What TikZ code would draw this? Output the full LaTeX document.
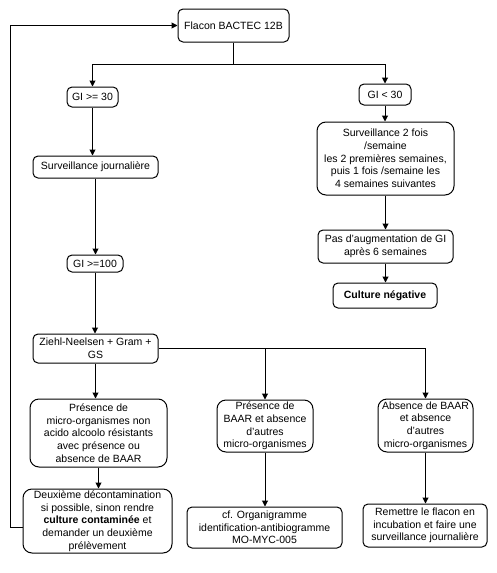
\documentclass[tikz,border=0pt]{standalone}
\usepackage{fontspec}
\setmainfont{Liberation Sans}
\usetikzlibrary{arrows.meta}
\tikzset{
  box/.style={draw, rounded corners=5pt, align=center, inner sep=0pt,
    font=\fontsize{10.5}{12.7}\selectfont, line width=1pt},
  bigbox/.style={box, rounded corners=9pt},
  conn/.style={line width=1pt},
  arr/.style={conn, -{Triangle[length=6pt,width=6pt]}}
}
\begin{document}
\begin{tikzpicture}[x=1pt,y=-1pt]
\useasboundingbox (0,0) rectangle (496,573);
% nodes
\node[box, minimum width=111pt, minimum height=33pt] (flacon) at (233.5,25.5) {Flacon BACTEC 12B};
\node[box, minimum width=51pt, minimum height=20pt] (gi30) at (92.5,97) {GI >= 30};
\node[box, minimum width=52pt, minimum height=21pt] (gilt) at (385,94.5) {GI < 30};
\node[bigbox, minimum width=137pt, minimum height=73pt] (surv2) at (385.5,158.5)
  {Surveillance 2 fois\\ /semaine\\ les 2 premières semaines,\\ puis 1 fois /semaine les\\ 4 semaines suivantes};
\node[box, minimum width=135pt, minimum height=33pt] (pas) at (385.5,246.5)
  {Pas d'augmentation de GI\\ après 6 semaines};
\node[box, minimum width=104pt, minimum height=25pt] (culture) at (385,295.5) {\textbf{Culture négative}};
\node[box, minimum width=125pt, minimum height=22pt] (survj) at (95.5,167) {Surveillance journalière};
\node[box, minimum width=56pt, minimum height=17pt] (gi100) at (95,263.5) {GI >=100};
\node[box, minimum width=125pt, minimum height=29pt] (ziehl) at (95.5,348.5) {Ziehl-Neelsen + Gram +\\ GS};
\node[bigbox, minimum width=137pt, minimum height=68pt] (presmicro) at (98.5,433)
  {Présence de\\ micro-organismes non\\ acido alcoolo résistants\\ avec présence ou\\ absence de BAAR};
\node[bigbox, minimum width=149pt, minimum height=64pt] (deux) at (97.5,521)
  {Deuxième décontamination\\ si possible, sinon rendre\\ \textbf{culture contaminée} et\\ demander un deuxième\\ prélèvement};
\node[bigbox, minimum width=96pt, minimum height=52pt] (presbaar) at (265,426)
  {Présence de\\ BAAR et absence\\ d'autres\\ micro-organismes};
\node[bigbox, minimum width=95pt, minimum height=53pt] (absence) at (425.5,425.5)
  {Absence de BAAR\\ et absence\\ d'autres\\ micro-organismes};
\node[box, minimum width=155pt, minimum height=41pt] (cf) at (264.5,527.5)
  {cf. Organigramme\\ identification-antibiogramme\\ MO-MYC-005};
\node[box, minimum width=124pt, minimum height=43pt] (remettre) at (425,525.5)
  {Remettre le flacon en\\ incubation et faire une\\ surveillance journalière};
% connectors
\coordinate (split) at (233.5,64);
\draw[conn] (flacon.south) -- (split);
\draw[arr] (split) -| (gi30.north);
\draw[arr] (split) -| (gilt.north);
\draw[arr] (gi30.south) -- (gi30.south |- survj.north);
\draw[arr] (survj.south) -- (survj.south |- gi100.north);
\draw[arr] (gi100.south) -- (gi100.south |- ziehl.north);
\draw[arr] (ziehl.south) -- (ziehl.south |- presmicro.north);
\draw[arr] (ziehl.east) -| (absence.north);
\draw[arr] (presbaar.north |- ziehl.east) -- (presbaar.north);
\draw[arr] (presmicro.south) -- (presmicro.south |- deux.north);
\coordinate (loopbot) at (10,527);
\coordinate (looptop) at (10,25.5);
\draw[arr] (deux.west |- loopbot) -- (loopbot) -- (looptop) -- (flacon.west);
\draw[arr] (gilt.south) -- (gilt.south |- surv2.north);
\draw[arr] (surv2.south) -- (surv2.south |- pas.north);
\draw[arr] (pas.south) -- (pas.south |- culture.north);
\draw[arr] (presbaar.south) -- (presbaar.south |- cf.north);
\draw[arr] (absence.south) -- (absence.south |- remettre.north);
\end{tikzpicture}
\end{document}
